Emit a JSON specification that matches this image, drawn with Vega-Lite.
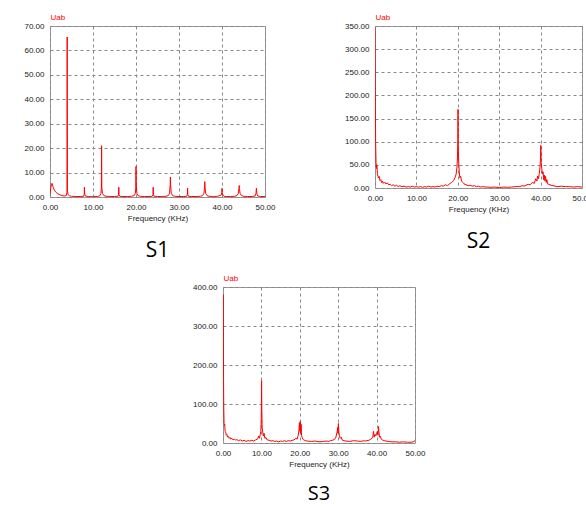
{
  "$schema": "https://vega.github.io/schema/vega-lite/v6.json",
  "padding": {"left": 23, "top": 12, "right": 0, "bottom": 0},
  "spacing": 11,
  "config": {
    "view": {"stroke": "#999", "strokeWidth": 1},
    "axis": {
      "labelFont": "Liberation Sans", "labelFontSize": 8, "labelColor": "#222",
      "titleFont": "Liberation Sans", "titleFontSize": 8, "titleFontWeight": "normal", "titleColor": "#222",
      "grid": true, "gridDash": [3, 3], "gridColor": "#888", "gridOpacity": 1,
      "domain": false, "ticks": false, "tickSize": 0, "labelPadding": 6,
      "labelFlush": false, "labelOverlap": false, "titlePadding": 3
    },
    "title": {"orient": "bottom", "font": "Open Sans", "fontSize": 21, "fontWeight": "normal", "color": "#000", "offset": 18}
  },
  "datasets": {
    "s1": [
      {"f":0,"v":1.0},{"f":0.2,"v":4.0},{"f":0.45,"v":5.6},{"f":0.7,"v":4.2},{"f":1.0,"v":2.8},{"f":1.4,"v":1.9},{"f":1.8,"v":1.3},{"f":2.3,"v":0.9},{"f":2.8,"v":0.6},{"f":3.3,"v":0.4},{"f":3.8,"v":0.6},{"f":3.95,"v":2},{"f":4.0,"v":65.5},{"f":4.05,"v":2.5},{"f":4.2,"v":1.0},{"f":4.5,"v":0.5},{"f":5,"v":0.3},{"f":6,"v":0.2},{"f":7,"v":0.2},{"f":7.8,"v":0.3},{"f":7.95,"v":1},{"f":8.0,"v":4.0},{"f":8.05,"v":1.5},{"f":8.2,"v":0.4},{"f":9,"v":0.2},{"f":10,"v":0.1},{"f":11,"v":0.2},{"f":11.6,"v":0.5},{"f":11.85,"v":1.5},{"f":11.95,"v":4},{"f":12.0,"v":21},{"f":12.05,"v":4},{"f":12.2,"v":1.5},{"f":12.5,"v":0.6},{"f":13,"v":0.3},{"f":14,"v":0.2},{"f":15,"v":0.2},{"f":15.8,"v":0.3},{"f":15.95,"v":1},{"f":16.0,"v":4.0},{"f":16.05,"v":1},{"f":16.2,"v":0.3},{"f":17,"v":0.2},{"f":18,"v":0.2},{"f":19,"v":0.3},{"f":19.6,"v":0.6},{"f":19.85,"v":1.5},{"f":19.95,"v":4},{"f":20.0,"v":12.5},{"f":20.05,"v":5},{"f":20.2,"v":1.5},{"f":20.5,"v":0.5},{"f":21,"v":0.3},{"f":22,"v":0.2},{"f":23,"v":0.2},{"f":23.8,"v":0.3},{"f":23.95,"v":1},{"f":24.0,"v":4.0},{"f":24.05,"v":1},{"f":24.2,"v":0.3},{"f":25,"v":0.2},{"f":26,"v":0.2},{"f":27,"v":0.3},{"f":27.5,"v":0.6},{"f":27.8,"v":1.5},{"f":27.95,"v":5},{"f":28.0,"v":8.2},{"f":28.05,"v":5},{"f":28.2,"v":1.5},{"f":28.5,"v":0.6},{"f":29,"v":0.3},{"f":30,"v":0.2},{"f":31,"v":0.2},{"f":31.8,"v":0.3},{"f":31.95,"v":1},{"f":32.0,"v":3.6},{"f":32.05,"v":1},{"f":32.2,"v":0.3},{"f":33,"v":0.2},{"f":34,"v":0.2},{"f":35,"v":0.3},{"f":35.5,"v":0.6},{"f":35.8,"v":1.5},{"f":35.95,"v":4},{"f":36.0,"v":6.3},{"f":36.05,"v":4},{"f":36.2,"v":1.5},{"f":36.5,"v":0.6},{"f":37,"v":0.3},{"f":38,"v":0.2},{"f":39,"v":0.3},{"f":39.8,"v":0.8},{"f":39.95,"v":1.8},{"f":40.0,"v":3.5},{"f":40.05,"v":1.8},{"f":40.2,"v":0.8},{"f":40.5,"v":0.3},{"f":41,"v":0.2},{"f":42,"v":0.2},{"f":43,"v":0.3},{"f":43.5,"v":0.6},{"f":43.8,"v":1.5},{"f":43.95,"v":3.5},{"f":44.0,"v":4.7},{"f":44.05,"v":3.5},{"f":44.2,"v":1.5},{"f":44.5,"v":0.6},{"f":45,"v":0.3},{"f":46,"v":0.2},{"f":47,"v":0.2},{"f":47.7,"v":0.4},{"f":47.9,"v":1.5},{"f":48.0,"v":3.6},{"f":48.1,"v":1.5},{"f":48.3,"v":0.4},{"f":49,"v":0.2},{"f":50,"v":0.2}
    ],
    "s2": [
      {"f":0,"v":345},{"f":0.05,"v":250},{"f":0.1,"v":180},{"f":0.15,"v":100},{"f":0.25,"v":55},{"f":0.35,"v":42},{"f":0.45,"v":50},{"f":0.6,"v":30},{"f":0.8,"v":22},{"f":1.0,"v":25},{"f":1.2,"v":16},{"f":1.4,"v":18},{"f":1.6,"v":12},{"f":1.8,"v":15},{"f":2.0,"v":10},{"f":2.3,"v":13},{"f":2.6,"v":9},{"f":3.0,"v":11},{"f":3.3,"v":7},{"f":3.7,"v":8},{"f":4.0,"v":5},{"f":4.4,"v":7},{"f":4.8,"v":4},{"f":5.2,"v":6},{"f":5.6,"v":3},{"f":6.0,"v":5},{"f":6.5,"v":3},{"f":7.0,"v":4},{"f":7.5,"v":2},{"f":8.0,"v":3},{"f":8.5,"v":2},{"f":9.0,"v":4},{"f":9.5,"v":2},{"f":10,"v":3},{"f":10.5,"v":2},{"f":11,"v":3},{"f":11.5,"v":1.5},{"f":12,"v":3},{"f":12.5,"v":2},{"f":13,"v":4},{"f":13.5,"v":2},{"f":14,"v":3},{"f":14.5,"v":2},{"f":15,"v":4},{"f":15.5,"v":3},{"f":16,"v":5},{"f":16.5,"v":4},{"f":17,"v":7},{"f":17.5,"v":5},{"f":18,"v":9},{"f":18.5,"v":12},{"f":19,"v":16},{"f":19.3,"v":22},{"f":19.6,"v":30},{"f":19.8,"v":45},{"f":19.9,"v":60},{"f":20.0,"v":100},{"f":20.05,"v":170},{"f":20.1,"v":95},{"f":20.2,"v":60},{"f":20.35,"v":35},{"f":20.5,"v":22},{"f":20.7,"v":25},{"f":20.9,"v":15},{"f":21.2,"v":12},{"f":21.5,"v":9},{"f":22,"v":7},{"f":22.5,"v":5},{"f":23,"v":6},{"f":23.5,"v":4},{"f":24,"v":5},{"f":24.5,"v":3},{"f":25,"v":4},{"f":25.5,"v":2},{"f":26,"v":3},{"f":27,"v":2},{"f":28,"v":1.5},{"f":29,"v":2},{"f":30,"v":1},{"f":31,"v":2},{"f":32,"v":1.5},{"f":33,"v":2},{"f":34,"v":3},{"f":35,"v":3},{"f":35.5,"v":5},{"f":36,"v":4},{"f":36.5,"v":6},{"f":37,"v":8},{"f":37.5,"v":7},{"f":38,"v":12},{"f":38.5,"v":10},{"f":38.8,"v":20},{"f":39.1,"v":15},{"f":39.3,"v":26},{"f":39.5,"v":20},{"f":39.7,"v":32},{"f":39.85,"v":45},{"f":39.95,"v":60},{"f":40.05,"v":92},{"f":40.15,"v":55},{"f":40.3,"v":40},{"f":40.45,"v":30},{"f":40.6,"v":35},{"f":40.75,"v":18},{"f":40.9,"v":28},{"f":41.05,"v":15},{"f":41.2,"v":25},{"f":41.35,"v":12},{"f":41.5,"v":18},{"f":41.7,"v":9},{"f":42,"v":8},{"f":42.5,"v":6},{"f":43,"v":5},{"f":43.5,"v":4},{"f":44,"v":3},{"f":45,"v":4},{"f":46,"v":3},{"f":47,"v":3},{"f":48,"v":2},{"f":49,"v":3},{"f":50,"v":2}
    ],
    "s3": [
      {"f":0,"v":270},{"f":0.05,"v":380},{"f":0.1,"v":300},{"f":0.15,"v":160},{"f":0.2,"v":90},{"f":0.28,"v":50},{"f":0.35,"v":45},{"f":0.45,"v":48},{"f":0.55,"v":30},{"f":0.7,"v":28},{"f":0.85,"v":20},{"f":1.0,"v":22},{"f":1.2,"v":15},{"f":1.4,"v":17},{"f":1.6,"v":12},{"f":1.8,"v":14},{"f":2.0,"v":10},{"f":2.3,"v":12},{"f":2.6,"v":8},{"f":3.0,"v":10},{"f":3.3,"v":7},{"f":3.6,"v":9},{"f":4.0,"v":6},{"f":4.5,"v":8},{"f":5.0,"v":5},{"f":5.5,"v":7},{"f":6.0,"v":4},{"f":6.5,"v":6},{"f":7.0,"v":5},{"f":7.5,"v":7},{"f":8.0,"v":5},{"f":8.5,"v":8},{"f":9.0,"v":10},{"f":9.3,"v":18},{"f":9.5,"v":12},{"f":9.7,"v":22},{"f":9.85,"v":30},{"f":9.95,"v":60},{"f":10.0,"v":95},{"f":10.05,"v":160},{"f":10.1,"v":85},{"f":10.2,"v":40},{"f":10.35,"v":28},{"f":10.5,"v":18},{"f":10.7,"v":25},{"f":10.9,"v":12},{"f":11.2,"v":14},{"f":11.5,"v":8},{"f":12,"v":7},{"f":12.5,"v":5},{"f":13,"v":6},{"f":13.5,"v":4},{"f":14,"v":5},{"f":14.5,"v":3},{"f":15,"v":5},{"f":15.5,"v":4},{"f":16,"v":6},{"f":16.5,"v":4},{"f":17,"v":6},{"f":17.5,"v":5},{"f":18,"v":7},{"f":18.5,"v":8},{"f":19,"v":12},{"f":19.3,"v":10},{"f":19.6,"v":20},{"f":19.8,"v":35},{"f":19.9,"v":52},{"f":20.0,"v":30},{"f":20.1,"v":55},{"f":20.2,"v":25},{"f":20.35,"v":48},{"f":20.45,"v":20},{"f":20.6,"v":15},{"f":20.8,"v":10},{"f":21,"v":8},{"f":21.5,"v":6},{"f":22,"v":5},{"f":23,"v":4},{"f":24,"v":5},{"f":25,"v":3},{"f":26,"v":4},{"f":27,"v":5},{"f":27.5,"v":4},{"f":28,"v":6},{"f":28.5,"v":7},{"f":29,"v":9},{"f":29.4,"v":15},{"f":29.7,"v":28},{"f":29.85,"v":40},{"f":29.95,"v":25},{"f":30.05,"v":50},{"f":30.15,"v":30},{"f":30.3,"v":20},{"f":30.5,"v":12},{"f":30.8,"v":15},{"f":31,"v":8},{"f":31.5,"v":6},{"f":32,"v":5},{"f":33,"v":4},{"f":34,"v":6},{"f":35,"v":5},{"f":36,"v":4},{"f":36.5,"v":6},{"f":37,"v":5},{"f":38,"v":7},{"f":38.5,"v":10},{"f":39,"v":14},{"f":39.2,"v":30},{"f":39.35,"v":15},{"f":39.6,"v":22},{"f":39.8,"v":18},{"f":40.0,"v":25},{"f":40.2,"v":30},{"f":40.35,"v":20},{"f":40.5,"v":42},{"f":40.6,"v":30},{"f":40.75,"v":15},{"f":40.9,"v":18},{"f":41.2,"v":10},{"f":41.5,"v":8},{"f":42,"v":6},{"f":43,"v":4},{"f":44,"v":3},{"f":45,"v":3},{"f":46,"v":2},{"f":47,"v":3},{"f":48,"v":2},{"f":49,"v":2},{"f":49.5,"v":3},{"f":50,"v":6}
    ],
    "blank": [{"k": 0}]
  },
  "vconcat": [
    {
      "hconcat": [
        {
          "data": {"name": "s1"},
          "width": 215, "height": 171,
          "title": "S1",
          "mark": {"type": "line", "color": "red", "strokeWidth": 1, "clip": true},
          "encoding": {
            "x": {"field": "f", "type": "quantitative", "scale": {"domain": [0, 50], "nice": false},
                  "axis": {"title": "Frequency (KHz)", "values": [0, 10, 20, 30, 40, 50], "format": ".2f"}},
            "y": {"field": "v", "type": "quantitative", "scale": {"domain": [0, 70], "nice": false},
                  "axis": {"title": "Uab", "titleAngle": 0, "titleX": 0, "titleY": -5, "titleAlign": "left", "titleBaseline": "bottom", "titleColor": "red",
                           "values": [0, 10, 20, 30, 40, 50, 60, 70], "format": ".2f"}}
          }
        },
        {
          "data": {"name": "s2"},
          "width": 207, "height": 162,
          "title": "S2",
          "mark": {"type": "line", "color": "red", "strokeWidth": 1, "clip": true},
          "encoding": {
            "x": {"field": "f", "type": "quantitative", "scale": {"domain": [0, 50], "nice": false},
                  "axis": {"title": "Frequency (KHz)", "values": [0, 10, 20, 30, 40, 50], "format": ".2f"}},
            "y": {"field": "v", "type": "quantitative", "scale": {"domain": [0, 350], "nice": false},
                  "axis": {"title": "Uab", "titleAngle": 0, "titleX": 0, "titleY": -5, "titleAlign": "left", "titleBaseline": "bottom", "titleColor": "red",
                           "values": [0, 50, 100, 150, 200, 250, 300, 350], "format": ".2f"}}
          }
        }
      ],
      "spacing": 68
    },
    {
      "hconcat": [
        {
          "data": {"name": "blank"},
          "width": 142, "height": 10,
          "view": {"stroke": null},
          "mark": {"type": "rule", "opacity": 0},
          "encoding": {}
        },
        {
          "data": {"name": "s3"},
          "width": 192, "height": 156,
          "title": {"text": "S3", "fontSize": 20, "offset": 16},
          "mark": {"type": "line", "color": "red", "strokeWidth": 1, "clip": true},
          "encoding": {
            "x": {"field": "f", "type": "quantitative", "scale": {"domain": [0, 50], "nice": false},
                  "axis": {"title": "Frequency (KHz)", "values": [0, 10, 20, 30, 40, 50], "format": ".2f"}},
            "y": {"field": "v", "type": "quantitative", "scale": {"domain": [0, 400], "nice": false},
                  "axis": {"title": "Uab", "titleAngle": 0, "titleX": 0, "titleY": -5, "titleAlign": "left", "titleBaseline": "bottom", "titleColor": "red",
                           "values": [0, 100, 200, 300, 400], "format": ".2f"}}
          }
        }
      ],
      "spacing": 0
    }
  ]
}
